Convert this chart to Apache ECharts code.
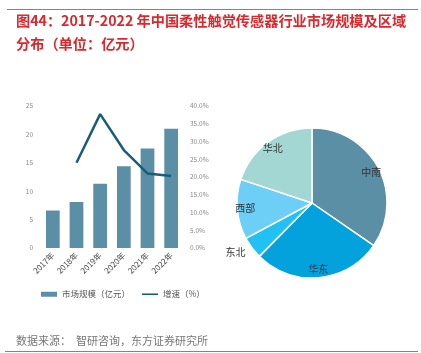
<!DOCTYPE html>
<html>
<head>
<meta charset="utf-8">
<script src="https://cdn.jsdelivr.net/npm/echarts@6/dist/echarts.min.js"></script>
<style>
  html, body { margin: 0; padding: 0; background: #fff; }
  #chart { width: 421px; height: 353px; }
</style>
</head>
<body>
<div id="chart"></div>
<script>
// 市场规模（亿元）与增速
const years = ['2017年', '2018年', '2019年', '2020年', '2021年', '2022年']
const marketSize = [6.6, 8.1, 11.3, 14.4, 17.5, 21.0]
const growth = [null, 0.240, 0.377, 0.276, 0.210, 0.203]

// 区域分布
const regions = ['中南', '华东', '东北', '西部', '华北']
const regionShare = [34.6, 27.8, 4.8, 12.9, 19.9]
const regionColors = ['#5b8fa6', '#04a2dc', '#22c1f4', '#6dcff6', '#a2d7d3']

const font = '"Noto Sans CJK SC", "Noto Sans", sans-serif'

const chart = echarts.init(document.getElementById('chart'))

chart.setOption({
    backgroundColor: '#fff',
    textStyle: { fontFamily: font },
    animation: false,
    title: {
        text: '图44：2017-2022 年中国柔性触觉传感器行业市场规模及区域\n分布（单位：亿元）',
        left: 16,
        top: 9,
        padding: 0,
        textStyle: {
            color: '#e0262b',
            fontSize: 14.2,
            fontWeight: 'bold',
            lineHeight: 23,
            fontFamily: font
        }
    },
    graphic: [
        {
            type: 'line',
            shape: { x1: 7, y1: 9.5, x2: 418, y2: 9.5 },
            style: { stroke: '#e35a5a', lineWidth: 1 }
        },
        {
            type: 'line',
            shape: { x1: 5, y1: 351.5, x2: 418, y2: 351.5 },
            style: { stroke: '#e35a5a', lineWidth: 1 }
        },
        {
            type: 'text',
            left: 16,
            top: 335,
            style: {
                text: '数据来源：  智研咨询，东方证券研究所',
                fill: '#777',
                font: '11px ' + font
            }
        }
    ],
    legend: {
        left: 41,
        top: 290,
        padding: 0,
        itemWidth: 16,
        itemHeight: 5,
        itemGap: 12,
        textStyle: { fontSize: 8.5, color: '#555', fontFamily: font },
        data: [
            { name: '市场规模（亿元）', icon: 'rect' },
            { name: '增速（%）', icon: 'path://M0,0H20V2H0Z' }
        ]
    },
    grid: {
        left: 41,
        right: 421 - 183,
        top: 106,
        bottom: 353 - 248
    },
    xAxis: {
        type: 'category',
        data: years,
        axisLine: { show: false },
        axisTick: { show: false },
        axisLabel: {
            rotate: 45,
            fontSize: 8,
            color: '#444',
            margin: 6,
            interval: 0
        }
    },
    yAxis: [
        {
            type: 'value',
            min: 0,
            max: 25,
            interval: 5,
            splitLine: { show: false },
            axisLine: { show: false },
            axisTick: { show: false },
            axisLabel: { fontSize: 6.5, color: '#888', margin: 8 }
        },
        {
            type: 'value',
            min: 0,
            max: 0.4,
            interval: 0.05,
            splitLine: { show: false },
            axisLine: { show: false },
            axisTick: { show: false },
            axisLabel: {
                fontSize: 6.5,
                color: '#888',
                margin: 7,
                formatter: v => (v * 100).toFixed(1) + '%'
            }
        }
    ],
    series: [
        {
            name: '市场规模（亿元）',
            type: 'bar',
            data: marketSize,
            barWidth: '58%',
            itemStyle: { color: '#5b8fa6' }
        },
        {
            name: '增速（%）',
            type: 'line',
            yAxisIndex: 1,
            data: growth,
            symbol: 'none',
            lineStyle: { color: '#195d7e', width: 2.5 },
            itemStyle: { color: '#195d7e' }
        },
        {
            name: '区域分布',
            type: 'pie',
            center: [312, 203],
            radius: [0, 75],
            startAngle: 90,
            silent: true,
            label: { show: false },
            labelLine: { show: false },
            itemStyle: { borderColor: '#fff', borderWidth: 1.5 },
            data: regions.map((n, i) => ({
                name: n,
                value: regionShare[i],
                itemStyle: { color: regionColors[i] }
            }))
        },
        {
            // 标签层，透明扇区只用于定位文字
            name: '区域标签',
            type: 'pie',
            center: [312, 203],
            radius: [53, 75],
            startAngle: 90,
            silent: true,
            itemStyle: { color: 'transparent' },
            label: {
                show: true,
                position: 'inside',
                formatter: '{b}',
                fontSize: 10,
                color: '#333'
            },
            labelLine: { show: false },
            data: regions.map((n, i) => {
                const item = { name: n, value: regionShare[i] }
                if (n === '东北') {
                    item.label = { position: 'outside', distanceToLabelLine: 0 }
                    item.labelLine = { show: false, length: 8, length2: 0 }
                }
                return item
            })
        }
    ]
})
</script>
</body>
</html>
